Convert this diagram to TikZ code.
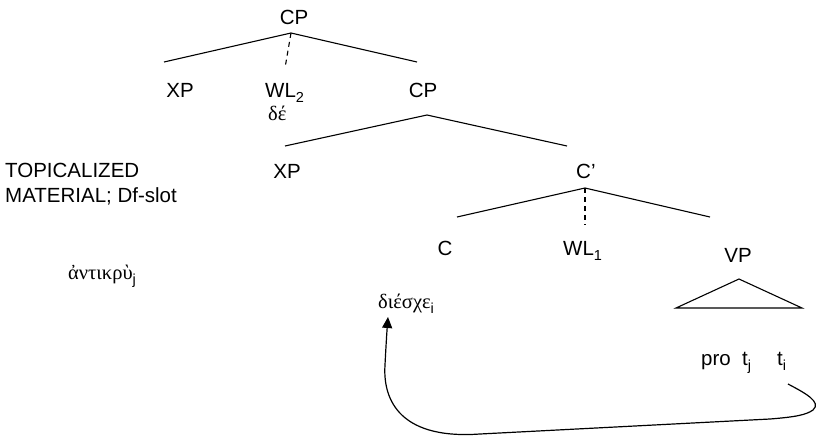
\documentclass[tikz,border=0pt]{standalone}
\usepackage{fontspec}
\setmainfont{Liberation Sans}
\newfontfamily\grk{Liberation Serif}
\usetikzlibrary{arrows.meta,calc}
% lowered index in the sans family
\newcommand\subx[1]{\raisebox{-5pt}{\rmfamily\fontsize{14.5}{14.5}\selectfont #1}}

\begin{document}
\begin{tikzpicture}[x=1pt,y=-1pt,
  lbl/.style={inner sep=0pt, anchor=base, font=\fontsize{20.5}{25}\selectfont},
  gk/.style={inner sep=0pt, anchor=base west, font=\fontsize{20.5}{25}\selectfont\grk},
  branch/.style={line width=1.1pt},
  weak/.style={line width=1.1pt, dash pattern=on 5pt off 4pt},
  move/.style={line width=1.2pt, -{Triangle[length=11pt,width=10pt]}}]

\useasboundingbox (0,0) rectangle (817,437);

% labels
\node[lbl] (cp0) at (294,24) {CP};
\node[lbl] (xp1) at (180,97) {XP};
\node[lbl, anchor=base west] (wl2) at (265,97) {WL\subx{2}};
\node[gk] (de) at (268,120) {δέ};
\node[lbl] (cp1) at (423,97) {CP};
\node[lbl, anchor=base west] (topic) at (5,177) {TOPICALIZED};
\node[lbl, anchor=base west] (mat) at (5,202) {MATERIAL; Df-slot};
\node[lbl] (xp2) at (287,178) {XP};
\node[lbl, anchor=base west] (cbar) at (576,178) {C’};
\node[gk] (antikru) at (68,279) {ἀντικρὺ\subx{j}};
\node[lbl] (c) at (445,255) {C};
\node[lbl, anchor=base west] (wl1) at (563,255) {WL\subx{1}};
\node[lbl] (vp) at (738,262) {VP};
\node[gk] (dieskhe) at (378,308) {διέσχε\subx{i}};
\node[lbl, anchor=base west] (pro) at (701,365) {pro};
\node[lbl, anchor=base west] (tj) at (742,365) {t\subx{j}};
\node[lbl, anchor=base west] (ti) at (777,365) {t\subx{i}};

% tree branches
\draw[branch] ([shift={(-3,9)}]cp0.base) -- ([shift={(-16,-35)}]xp1.base);
\draw[weak]   ([shift={(-3,9)}]cp0.base) -- ([shift={(20,-29)}]wl2.base west);
\draw[branch] ([shift={(-3,9)}]cp0.base) -- ([shift={(-6,-35)}]cp1.base);
\draw[branch] ([shift={(4,18)}]cp1.base) -- ([shift={(-2,-32)}]xp2.base);
\draw[branch] ([shift={(4,18)}]cp1.base) -- ([shift={(-9,-32)}]cbar.base west);
\draw[branch] ([shift={(9,10)}]cbar.base west) -- ([shift={(12,-38)}]c.base);
\draw[weak]   ([shift={(9,10)}]cbar.base west) -- ([shift={(22,-30)}]wl1.base west);
\draw[branch] ([shift={(9,10)}]cbar.base west) -- ([shift={(-28,-45)}]vp.base);
\draw[branch] ([shift={(1,17)}]vp.base) -- ([shift={(-62,46)}]vp.base)
  -- ([shift={(64,46)}]vp.base) -- cycle;

% movement of the verb
\draw[move] ([shift={(11,19)}]ti.base west)
  .. controls (805,393) and (822,402) .. (813,410)
  .. controls (806,415) and (795,417) .. (770,419)
  -- (480,434)
  .. controls (395,440) and (383,395) .. (385,365)
  .. controls (386,345) and (387,330) .. ([shift={(10,9)}]dieskhe.base west);
\end{tikzpicture}
\end{document}
